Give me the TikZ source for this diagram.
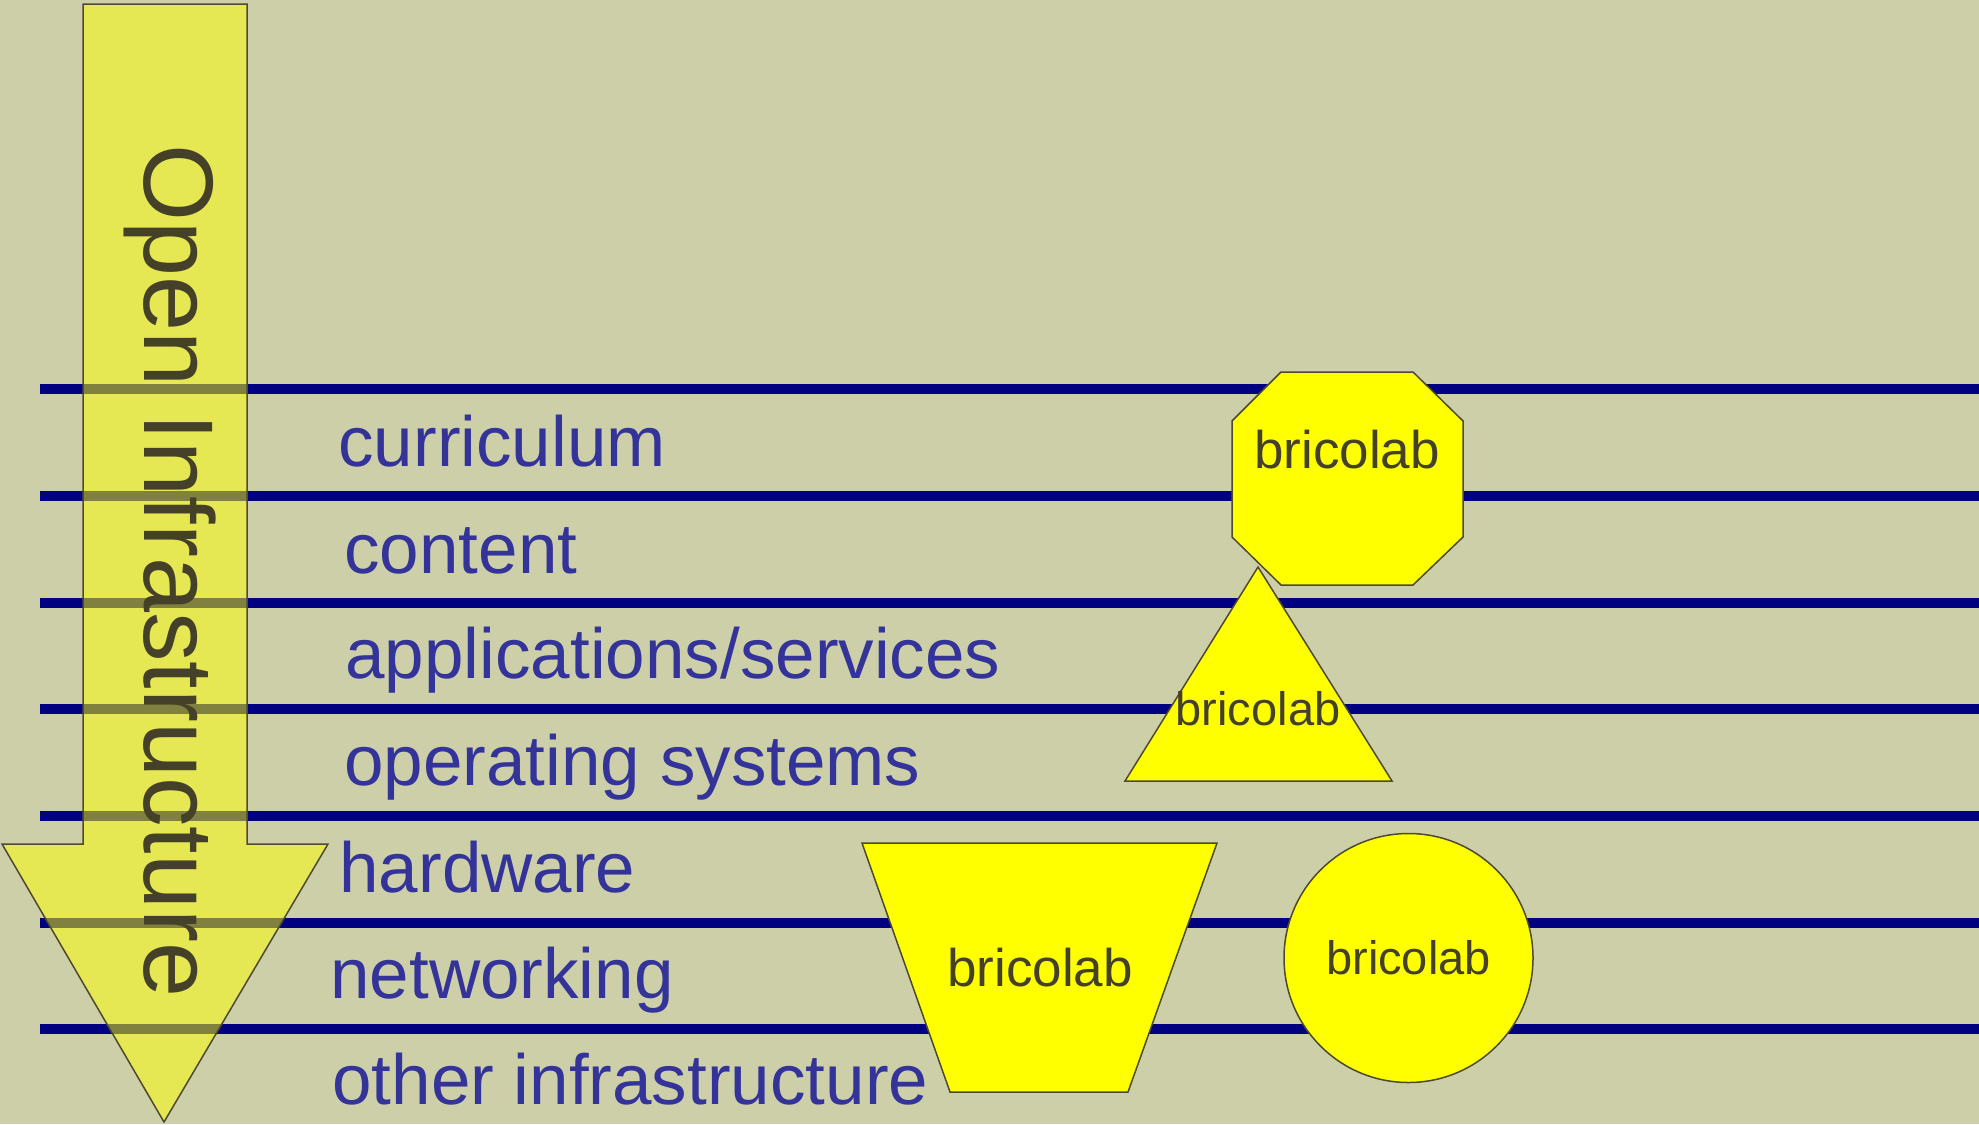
\documentclass[tikz,border=0pt]{standalone}
\usepackage{fontspec}
\setmainfont{Liberation Sans}
\usepackage{tikz}
\usetikzlibrary{positioning}
\definecolor{paper}{RGB}{204,207,168}
\definecolor{layerblue}{RGB}{0,0,128}
\definecolor{labelblue}{RGB}{51,51,153}
\definecolor{olivetext}{RGB}{69,64,40}
\definecolor{edge}{RGB}{77,74,46}
\definecolor{brightyellow}{RGB}{255,255,0}
\tikzstyle{layer}= [layerblue, line width=5pt]
\tikzstyle{shapeline}= [draw=edge, line width=0.75pt, fill=brightyellow]

\begin{document}
\begin{tikzpicture}[
    x=0.5pt, y=-0.5pt,
    layerlabel/.style={anchor=base west, inner sep=0, text=labelblue,
      font=\fontsize{35.5}{40}\selectfont},
    brico/.style={inner sep=0, text=olivetext, font=\fontsize{26.5}{30}\selectfont},
    smallbrico/.style={brico, font=\fontsize{23.5}{27}\selectfont}
  ]

  \fill[paper] (0,0) rectangle (1979,1124);
  \useasboundingbox (0,0) rectangle (1979,1124);

  % layers
  \draw[layer] (40,389) -- (1979,389);
  \draw[layer] (40,496) -- (1979,496);
  \draw[layer] (40,603) -- (1979,603);
  \draw[layer] (40,709) -- (1979,709);
  \draw[layer] (40,816) -- (1979,816);
  \draw[layer] (40,923) -- (1979,923);
  \draw[layer] (40,1029) -- (1979,1029);

  \node[layerlabel] (curr) at (338,466) {curriculum};
  \node[layerlabel] (cont) at (344,573) {content};
  \node[layerlabel] (apps) at (345,678) {applications/services};
  \node[layerlabel] (os) at (344,785) {operating systems};
  \node[layerlabel] (hw) at (339,892) {hardware};
  \node[layerlabel] (net) at (330,998) {networking};
  \node[layerlabel] (other) at (332,1104) {other infrastructure};

  % big arrow
  \draw[draw=edge, line width=0.75pt, fill=brightyellow, fill opacity=0.5]
    (83,4) -- (247,4) -- (247,844) -- (328,844) -- (164,1122)
    -- (2,844) -- (83,844) -- cycle;
  \node[rotate=-90, anchor=base west, inner sep=0, text=olivetext,
    font=\fontsize{49.5}{55}\selectfont] (openinfra) at (144,144) {Open Infrastructure};

  % bricolab shapes
  \draw[shapeline] (1281,372) -- (1413,372) -- (1463,421) -- (1463,537)
    -- (1413,585) -- (1281,585) -- (1232,537) -- (1232,421) -- cycle;
  \node[brico, anchor=base] (octa) at (1347,468) {bricolab};

  \draw[shapeline] (1258,567) -- (1392,781) -- (1125,781) -- cycle;
  \node[smallbrico, anchor=base] (tri) at (1258,725) {bricolab};

  \draw[shapeline] (862,843) -- (1217,843) -- (1128,1092) -- (950,1092) -- cycle;
  \node[brico, anchor=base] (trap) at (1040,986) {bricolab};

  \node[shapeline, circle, minimum size=124.5pt, smallbrico] (circ) at (1408.5,958) {bricolab};

\end{tikzpicture}
\end{document}
